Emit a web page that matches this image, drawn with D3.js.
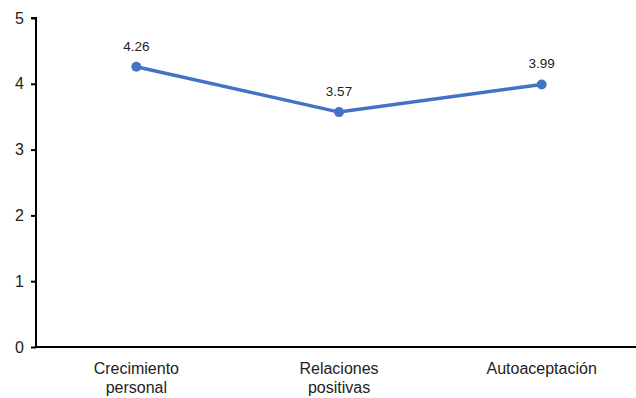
<!DOCTYPE html>
<html><head><meta charset="utf-8">
<script src="https://cdn.jsdelivr.net/npm/d3@7"></script>
<style>body{margin:0;background:#fff}svg{display:block}text{font-family:"Liberation Sans",Arial,sans-serif;fill:#222}</style>
</head><body><svg id="c" width="636" height="398"></svg>
<script>
const categories = [["Crecimiento","personal"],["Relaciones","positivas"],["Autoaceptación"]];
const values = [4.26, 3.57, 3.99];
const yTicks = [0,1,2,3,4,5];

const svg = d3.select("#c");
const x = d3.scaleBand().domain(d3.range(categories.length)).range([35, 643]);
const y = d3.scaleLinear().domain([0,5]).range([347, 18]);

const yAxis = svg.append("g").attr("transform","translate(36,0)")
  .call(d3.axisLeft(y).tickValues(yTicks).tickSize(5).tickPadding(7).tickFormat(d3.format("d")));
yAxis.select(".domain").attr("stroke","#000").attr("stroke-width",2).attr("d","M-5,"+y(5)+"H0V"+y(0));
yAxis.selectAll(".tick line").attr("stroke","#000").attr("stroke-width",2);
yAxis.selectAll(".tick text").style("font-size","16px").attr("fill","#222").style("font-family","Liberation Sans, Arial");

svg.append("line").attr("x1",35).attr("x2",636).attr("y1",y(0)).attr("y2",y(0))
  .attr("stroke","#000").attr("stroke-width",2);

const cx = i => x(i) + x.bandwidth()/2;

svg.append("path").datum(values)
  .attr("d", d3.line().x((d,i)=>cx(i)).y(d=>y(d)))
  .attr("fill","none").attr("stroke","#4472C4").attr("stroke-width",3.5);

svg.selectAll("circle.pt").data(values).join("circle")
  .attr("cx",(d,i)=>cx(i)).attr("cy",d=>y(d)).attr("r",5).attr("fill","#4472C4");

svg.selectAll("text.lbl").data(values).join("text")
  .attr("x",(d,i)=>cx(i)).attr("y",d=>y(d)-16).attr("text-anchor","middle")
  .style("font-size","13.5px").text(d=>d.toFixed(2));

categories.forEach((lines,i)=>{
  lines.forEach((l,j)=>svg.append("text").attr("x",cx(i)).attr("y",374+j*19)
    .attr("text-anchor","middle").style("font-size","16px").text(l));
});
</script></body></html>
